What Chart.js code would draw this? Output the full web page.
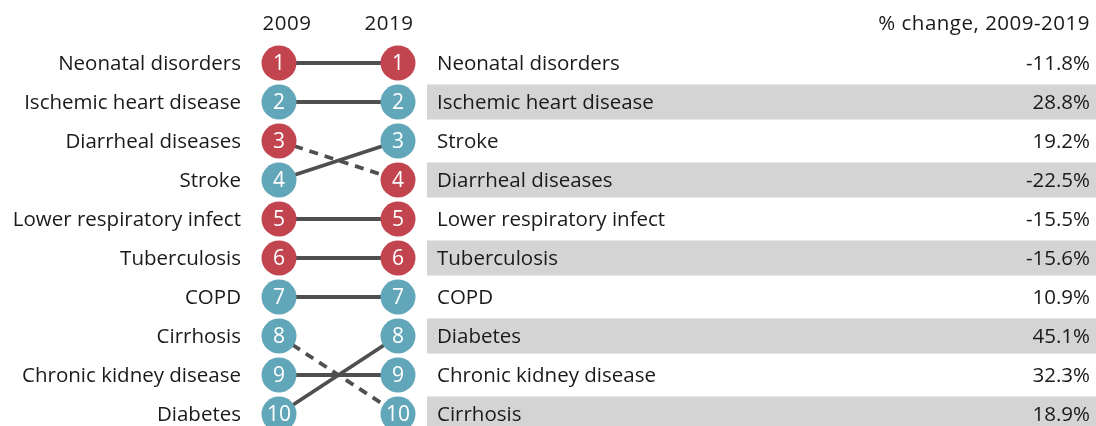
<!DOCTYPE html>
<html>
<head>
<meta charset="utf-8">
<script src="https://cdn.jsdelivr.net/npm/chart.js@4/dist/chart.umd.min.js"></script>
<style>
  html, body { margin: 0; padding: 0; background: #fff; }
  canvas { display: block; }
</style>
</head>
<body>
<canvas id="myChart" width="1096" height="426"></canvas>
<script>
// causes in 2009 rank order
const causes = ['Neonatal disorders', 'Ischemic heart disease', 'Diarrheal diseases', 'Stroke',
  'Lower respiratory infect', 'Tuberculosis', 'COPD', 'Cirrhosis', 'Chronic kidney disease', 'Diabetes'];
const rank2009 = [1, 2, 3, 4, 5, 6, 7, 8, 9, 10];
const rank2019 = [1, 2, 4, 3, 5, 6, 7, 10, 9, 8];
const pctChange = [-11.8, 28.8, -22.5, 19.2, -15.5, -15.6, 10.9, 18.9, 32.3, 45.1];
const years = [2009, 2019];

const RED = '#c1444f';
const TEAL = '#62a6b9';
const LINE = '#4f4f4f';
const FONT = '"Open Sans", sans-serif';

const datasets = causes.map((name, i) => {
  const col = pctChange[i] < 0 ? RED : TEAL;
  return {
    label: name,
    data: [{x: years[0], y: rank2009[i]}, {x: years[1], y: rank2019[i]}],
    borderColor: LINE,
    borderWidth: 3.8,
    borderDash: rank2019[i] > rank2009[i] ? [9, 7] : [],
    pointRadius: 17.5,
    pointHoverRadius: 17.5,
    pointBackgroundColor: col,
    pointBorderWidth: 0,
    clip: false
  };
});

const labelsPlugin = {
  id: 'labelsPlugin',
  beforeDatasetsDraw(chart) {
    const ctx = chart.ctx, y = chart.scales.y, x = chart.scales.x;
    const bandLeft = x.getPixelForValue(2019) + 29;
    ctx.save();
    ctx.fillStyle = '#d4d4d4';
    for (let r = 2; r <= 10; r += 2) {
      const cy = y.getPixelForValue(r);
      ctx.fillRect(bandLeft, cy - 17.5, chart.width - bandLeft, 35);
    }
    ctx.restore();
  },
  afterDatasetsDraw(chart) {
    const ctx = chart.ctx, y = chart.scales.y, x = chart.scales.x;
    const x0 = x.getPixelForValue(2009), x1 = x.getPixelForValue(2019);
    ctx.save();
    ctx.textBaseline = 'middle';
    // numbers inside circles
    ctx.font = '21px ' + FONT;
    ctx.fillStyle = '#fff';
    ctx.textAlign = 'center';
    causes.forEach((n, i) => {
      ctx.fillText(String(rank2009[i]), x0, y.getPixelForValue(rank2009[i]) + 1);
      ctx.fillText(String(rank2019[i]), x1, y.getPixelForValue(rank2019[i]) + 1);
    });
    ctx.font = '20.5px ' + FONT;
    ctx.fillStyle = '#1a1a1a';
    // headers
    ctx.letterSpacing = '0.5px';
    ctx.fillText('2009', x0 + 8, 24);
    ctx.fillText('2019', x1 - 9, 24);
    ctx.textAlign = 'right';
    ctx.fillText('% change, 2009-2019', chart.width - 6, 24);
    ctx.letterSpacing = '0px';
    // left labels, right labels and % change
    causes.forEach((n, i) => {
      ctx.textAlign = 'right';
      ctx.fillText(n, x0 - 38, y.getPixelForValue(rank2009[i]) + 1);
      const cy = y.getPixelForValue(rank2019[i]) + 1;
      ctx.textAlign = 'left';
      ctx.fillText(n, x1 + 39, cy);
      ctx.textAlign = 'right';
      ctx.fillText(pctChange[i].toFixed(1) + '%', chart.width - 6, cy);
    });
    ctx.restore();
  }
};

new Chart(document.getElementById('myChart'), {
  type: 'line',
  data: { datasets: datasets },
  options: {
    responsive: false,
    animation: false,
    events: [],
    layout: { autoPadding: false, padding: { left: 279, right: 698, top: 63, bottom: 12 } },
    plugins: { legend: { display: false }, tooltip: { enabled: false } },
    scales: {
      x: { type: 'linear', min: 2009, max: 2019, display: false },
      y: { type: 'linear', min: 1, max: 10, reverse: true, display: false }
    }
  },
  plugins: [labelsPlugin]
});
</script>
</body>
</html>
